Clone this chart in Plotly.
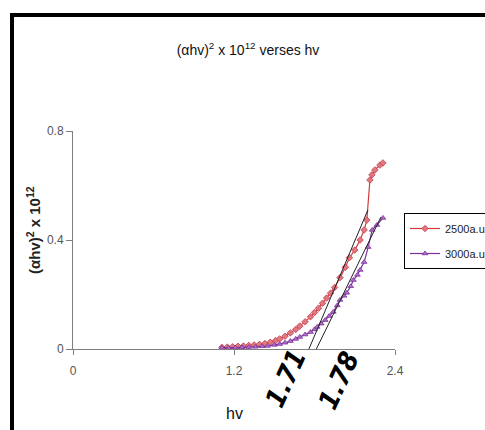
import plotly.graph_objects as go

# ---- data ----
hv_2500 = [1.11, 1.15, 1.19, 1.23, 1.27, 1.31, 1.35, 1.39, 1.43, 1.47, 1.51, 1.54, 1.58, 1.62,
           1.66, 1.69, 1.73, 1.77, 1.80, 1.83, 1.86, 1.89, 1.92, 1.95, 1.99, 2.03, 2.06, 2.10,
           2.14, 2.17, 2.19, 2.213, 2.228, 2.25, 2.288, 2.31]
y_2500 = [0.006, 0.007, 0.008, 0.010, 0.011, 0.013, 0.015, 0.017, 0.020, 0.025, 0.031, 0.037,
          0.047, 0.059, 0.072, 0.084, 0.100, 0.118, 0.134, 0.150, 0.168, 0.187, 0.205, 0.226,
          0.262, 0.300, 0.335, 0.363, 0.400, 0.437, 0.473, 0.620, 0.639, 0.657, 0.675, 0.683]

hv_3000 = [1.11, 1.16, 1.21, 1.26, 1.31, 1.36, 1.41, 1.45, 1.50, 1.54, 1.58, 1.62, 1.66, 1.69,
           1.73, 1.77, 1.80, 1.82, 1.85, 1.88, 1.91, 1.94, 1.97, 1.99, 2.02, 2.04, 2.07, 2.09,
           2.12, 2.14, 2.17, 2.20, 2.23, 2.265, 2.31]
y_3000 = [0.004, 0.004, 0.005, 0.006, 0.007, 0.008, 0.010, 0.011, 0.015, 0.018, 0.023, 0.029,
          0.037, 0.044, 0.053, 0.062, 0.072, 0.081, 0.093, 0.106, 0.121, 0.136, 0.160, 0.180,
          0.195, 0.206, 0.230, 0.253, 0.272, 0.290, 0.319, 0.374, 0.437, 0.455, 0.481]

# hand-drawn tangent (extrapolation) lines
tan1_x = [1.736, 2.198]
tan1_y = [-0.026, 0.510]
tan2_x = [1.788, 2.295]
tan2_y = [-0.026, 0.484]

series_names = ["2500a.u", "3000a.u"]
x_ticks = [0, 1.2, 2.4]
x_ticktext = ["0", "1.2", "2.4"]
y_ticks = [0, 0.4, 0.8]
y_ticktext = ["0", "0.4", "0.8"]
gap_labels = ["1.71", "1.78"]

FONT = "Liberation Sans, Arial, sans-serif"

fig = go.Figure()
fig.add_trace(go.Scatter(
    x=hv_2500, y=y_2500, mode="lines+markers", name=series_names[0],
    line=dict(color="#d03a3a", width=1.2),
    marker=dict(symbol="diamond", size=5, color="#e07a7a",
                line=dict(color="#c83a5a", width=0.8)),
    legendgroup="a"))
fig.add_trace(go.Scatter(
    x=hv_3000, y=y_3000, mode="lines+markers", name=series_names[1],
    line=dict(color="#7a2f9a", width=1.2),
    marker=dict(symbol="triangle-up", size=5, color="#b070c8",
                line=dict(color="#7a2f9a", width=0.8)),
    legendgroup="b"))
fig.add_trace(go.Scatter(x=tan1_x, y=tan1_y, mode="lines", showlegend=False,
                         line=dict(color="#222222", width=1), hoverinfo="skip"))
fig.add_trace(go.Scatter(x=tan2_x, y=tan2_y, mode="lines", showlegend=False,
                         line=dict(color="#222222", width=1), hoverinfo="skip"))

# plot area: x 73..395 px, y 131..349 px
L, R, T, B = 73, 395, 131, 349
W, H = 485, 430
def px(x):
    return (x - L) / (R - L)
def py(y):
    return (B - y) / (B - T)

fig.update_layout(
    width=W, height=H,
    margin=dict(l=L, r=W - R, t=T, b=H - B, autoexpand=False),
    paper_bgcolor="white", plot_bgcolor="white",
    font=dict(family=FONT, size=12, color="#333333"),
    title=dict(text="(αhv)<sup>2</sup> x 10<sup>12</sup> verses hv",
               x=248 / W, xanchor="center", y=1 - 50 / H, yanchor="middle",
               font=dict(family=FONT, size=14, color="#111111")),
    xaxis=dict(range=[0, 2.4], tickvals=x_ticks, ticktext=x_ticktext,
               showgrid=False, zeroline=False, showline=True,
               linecolor="#7f7f7f", linewidth=1, ticks="outside", ticklen=5,
               tickcolor="#7f7f7f", tickfont=dict(size=12, color="#555555"),
               ticklabelstandoff=6),
    yaxis=dict(range=[0, 0.8], tickvals=y_ticks, ticktext=y_ticktext,
               showgrid=False, zeroline=False, showline=True,
               linecolor="#7f7f7f", linewidth=1, ticks="outside", ticklen=6,
               tickcolor="#7f7f7f", tickfont=dict(size=12, color="#555555")),
    showlegend=True,
    legend=dict(x=px(404), y=py(213), xanchor="left", yanchor="top",
                bordercolor="#000000", borderwidth=1, bgcolor="white",
                font=dict(family=FONT, size=11, color="#222222"),
                traceorder="grouped", tracegroupgap=6, itemwidth=30),
)

annotations = [
    dict(text="<b>(αhv)<sup>2</sup> x 10<sup>12</sup></b>", xref="paper", yref="paper",
         x=px(33), y=py(230), textangle=-90, showarrow=False,
         font=dict(family=FONT, size=15, color="#222222"),
         xanchor="center", yanchor="middle"),
    dict(text="hv", xref="paper", yref="paper", x=px(234), y=py(413),
         showarrow=False, font=dict(family=FONT, size=16, color="#111111"),
         xanchor="center", yanchor="middle"),
    dict(text="<b><i>" + gap_labels[0] + "</i></b>", xref="paper", yref="paper",
         x=px(285), y=py(378), textangle=-65, showarrow=False,
         font=dict(family="DejaVu Sans Condensed, sans-serif", size=27, color="black"),
         xanchor="center", yanchor="middle"),
    dict(text="<b><i>" + gap_labels[1] + "</i></b>", xref="paper", yref="paper",
         x=px(338), y=py(380), textangle=-65, showarrow=False,
         font=dict(family="DejaVu Sans Condensed, sans-serif", size=27, color="black"),
         xanchor="center", yanchor="middle"),
]
fig.update_layout(annotations=annotations)

# outer black frame (extends past the bottom/right edges as in the reference)
fig.add_shape(type="rect", xref="paper", yref="paper",
              x0=px(12), x1=px(500), y0=py(445), y1=py(15),
              line=dict(color="black", width=4), fillcolor="rgba(0,0,0,0)", layer="above")

fig.write_html(
    "out.html",
    config={"displayModeBar": False},
    post_script="document.body.style.margin='0';document.body.style.overflow='hidden';",
)
